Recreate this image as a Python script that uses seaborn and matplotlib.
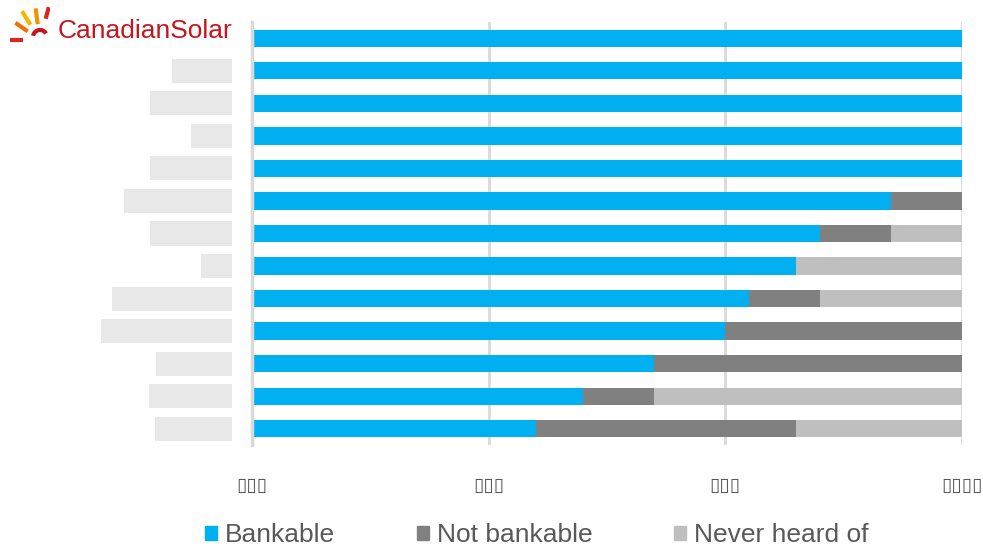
import numpy as np
import pandas as pd
import seaborn as sns
import matplotlib.pyplot as plt
from matplotlib.patches import Rectangle, Patch, Arc

# survey of 30 respondents, one row per manufacturer (names redacted except the first)
brands = ["Canadian Solar", "Brand B", "Brand C", "Brand D", "Brand E", "Brand F", "Brand G",
          "Brand H", "Brand I", "Brand J", "Brand K", "Brand L", "Brand M"]
bankable = [30, 30, 30, 30, 30, 27, 24, 23, 21, 20, 17, 14, 12]
not_bankable = [0, 0, 0, 0, 0, 3, 3, 0, 3, 10, 13, 3, 11]
never_heard = [0, 0, 0, 0, 0, 0, 3, 7, 6, 0, 0, 13, 7]
n_resp = 30
tick_labels = ["▯▯▯", "▯▯▯", "▯▯▯", "▯▯▯▯"]

# left edge (pixels) of the redacted label boxes, rows 2..13
label_box_left = [172, 150, 191, 150, 124, 150, 201, 112, 101, 156, 149, 155]

BLUE, DARK, LIGHT = "#00B0F0", "#808080", "#BFBFBF"

df = pd.DataFrame({"brand": brands,
                   "bankable": np.array(bankable) / n_resp,
                   "not": np.array(not_bankable) / n_resp,
                   "never": np.array(never_heard) / n_resp})
df["lvl2"] = df["bankable"] + df["not"]
df["lvl3"] = df["lvl2"] + df["never"]

sns.set_style("white")
plt.rcParams["font.family"] = ["Liberation Sans", "DejaVu Sans"]

W, H = 983, 548
fig = plt.figure(figsize=(W / 100, H / 100), dpi=100)
ax = fig.add_axes([252 / W, 1 - 445 / H, 710 / W, 423 / H])

for col, c in [("lvl3", LIGHT), ("lvl2", DARK), ("bankable", BLUE)]:
    sns.barplot(data=df, x=col, y="brand", order=brands, color=c, width=0.53,
                orient="h", ax=ax, saturation=1, linewidth=0, errorbar=None)

ax.set_xlim(0, 1)
ax.set_ylim(12.5, -0.5)
ax.set_xticks([0, 1 / 3, 2 / 3, 1])
ax.set_xticklabels(tick_labels, family="DejaVu Sans", fontsize=13.5, color="#595959")
ax.tick_params(axis="x", length=0, pad=22)
ax.set_yticks([])
ax.set_xlabel("")
ax.set_ylabel("")
for x in [1 / 3, 2 / 3, 1]:
    ax.axvline(x, color="#D9D9D9", lw=2, zorder=0)
for s in ["top", "right", "bottom"]:
    ax.spines[s].set_visible(False)
ax.spines["left"].set_color("#D9D9D9")
ax.spines["left"].set_linewidth(2.5)

# redacted category labels
ytr = ax.get_yaxis_transform()
for i, left in enumerate(label_box_left, start=1):
    x0 = (left - 252) / 710
    x1 = (232 - 252) / 710
    ax.add_patch(Rectangle((x0, i - 0.37), x1 - x0, 0.74, transform=ytr,
                           color="#E8E8E8", clip_on=False, lw=0))

# logo in the first label slot
fig.text(232 / W, 1 - 31 / H, "CanadianSolar", color="#C4161C", fontsize=19,
         va="center", ha="right")
lax = fig.add_axes([0, 1 - 50 / H, 50 / W, 50 / H])
lax.set_xlim(0, 50)
lax.set_ylim(50, 0)
lax.axis("off")
cx, cy = 40, 40
for ang, col, r0, r1 in [(180, "#D7261C", 17, 30), (145, "#EE7203", 15, 30),
                         (122, "#F7B500", 18, 34), (98, "#F39200", 16, 32),
                         (75, "#D7261C", 22, 34)]:
    a = np.radians(ang)
    lax.plot([cx + r0 * np.cos(a), cx + r1 * np.cos(a)],
             [cy - r0 * np.sin(a), cy - r1 * np.sin(a)],
             color=col, lw=3.0, solid_capstyle="butt")
lax.add_patch(Arc((cx, cy - 3), 14, 14, theta1=190, theta2=330, color="#C4161C", lw=3))

handles = [Patch(color=BLUE, label="Bankable"),
           Patch(color=DARK, label="Not bankable"),
           Patch(color=LIGHT, label="Never heard of")]
fig.legend(handles=handles, loc="center", bbox_to_anchor=(537 / W, 1 - 535 / H), ncol=3,
           frameon=False, fontsize=19, handlelength=0.45, handleheight=0.45,
           handletextpad=0.3, columnspacing=3.1, labelcolor="#595959")

fig.savefig("out.png", dpi=100)
